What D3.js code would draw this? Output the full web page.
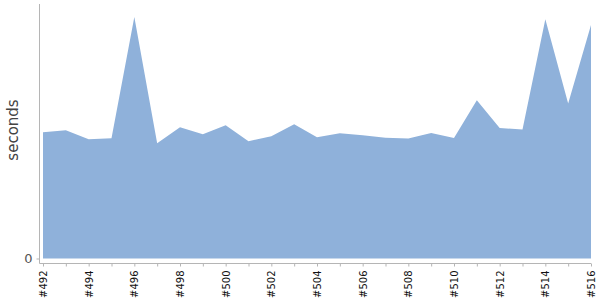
<!DOCTYPE html>
<html>
<head>
<meta charset="utf-8">
<script src="https://cdn.jsdelivr.net/npm/d3@7"></script>
<style>
  body { margin: 0; background: #fff; }
  svg text { font-family: "DejaVu Sans", sans-serif; }
</style>
</head>
<body>
<div id="chart"></div>
<script>
// build numbers on the x axis
const builds = d3.range(492, 517);
// duration per build, seconds
const seconds = [126, 128, 119, 120, 241, 115, 131, 124, 133, 117, 122, 134, 121,
                 125, 123, 120.5, 119.7, 125.3, 120.3, 158, 130.3, 128.7, 238.7, 154.7, 233];
const yTicks = [0];

const width = 600, height = 300;
const margin = {top: 4, right: 9, bottom: 42, left: 43};

const svg = d3.select('#chart').append('svg')
  .attr('width', width)
  .attr('height', height);

const x = d3.scalePoint()
  .domain(builds)
  .range([margin.left, width - margin.right]);

const y = d3.scaleLinear()
  .domain([0, 254])
  .range([height - margin.bottom + 0.5, margin.top]);

// area
const area = d3.area()
  .x((d, i) => x(builds[i]))
  .y0(y(0))
  .y1(d => y(d));

svg.append('path')
  .datum(seconds)
  .attr('d', area)
  .attr('fill', '#8fb1da');

// y axis
const yAxis = svg.append('g')
  .attr('transform', 'translate(39.5,0)')
  .call(d3.axisLeft(y).tickValues(yTicks).tickSize(3).tickPadding(4));
yAxis.select('.domain')
  .attr('d', `M0,${margin.top}V263.5`)
  .attr('stroke', '#b5b5b5');
yAxis.selectAll('.tick line').attr('stroke', '#b5b5b5');
yAxis.selectAll('.tick text')
  .attr('fill', '#555')
  .style('font-size', '13px');

// x axis
const xAxis = svg.append('g')
  .attr('transform', 'translate(0,263.5)')
  .call(d3.axisBottom(x)
    .tickSize(3)
    .tickFormat(d => (d % 2 === 0 ? '#' + d : '')));
xAxis.select('.domain')
  .attr('d', `M39.5,0H${width - margin.right}`)
  .attr('stroke', '#b5b5b5');
xAxis.selectAll('.tick line').attr('stroke', '#b5b5b5');
xAxis.selectAll('.tick text')
  .attr('fill', '#111')
  .style('font-size', '10px')
  .attr('text-anchor', 'end')
  .attr('transform', 'rotate(-90)')
  .attr('x', -7)
  .attr('y', 0)
  .attr('dy', '0.35em');

// y label
svg.append('text')
  .attr('transform', 'translate(18,130) rotate(-90)')
  .attr('text-anchor', 'middle')
  .attr('fill', '#444')
  .style('font-size', '15px')
  .text('seconds');
</script>
</body>
</html>
